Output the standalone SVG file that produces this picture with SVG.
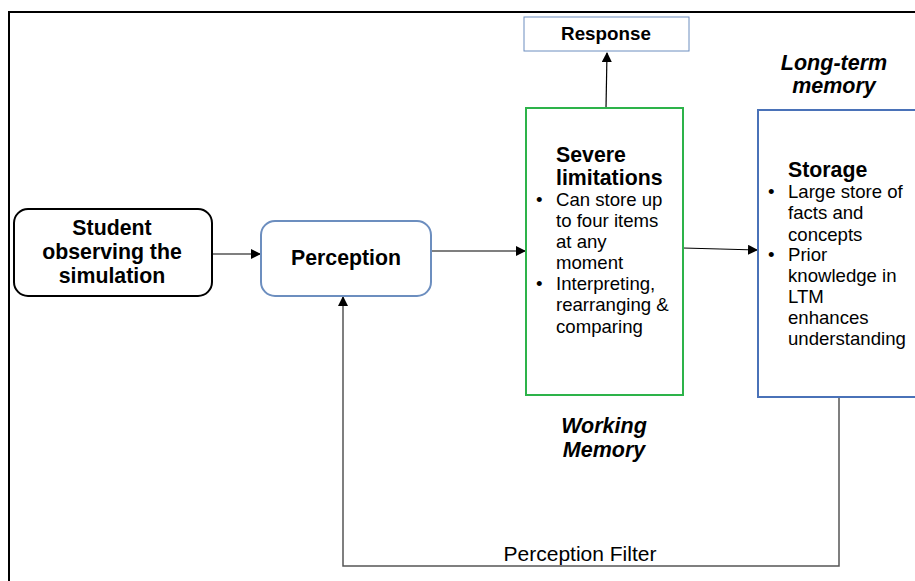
<svg xmlns="http://www.w3.org/2000/svg" width="915" height="581" viewBox="0 0 915 581">
<style>
text{font-family:"Liberation Sans",Arial,sans-serif;fill:#000}
.b{font-weight:bold;font-size:21.3px}
.bi{font-weight:bold;font-style:italic;font-size:21.5px}
.t{font-size:18.6px}
.c{stroke:#000;stroke-width:1.2;fill:none}
</style>
<defs>
<marker id="ah" viewBox="0 0 10 10" refX="9" refY="5" markerWidth="10" markerHeight="10" markerUnits="userSpaceOnUse" orient="auto">
<path d="M0,0 L10,5 L0,10 z" fill="#000"/>
</marker>
</defs>
<rect width="915" height="581" fill="#fff"/>
<g id="frame"><path d="M9,581 V12 H915" fill="none" stroke="#000" stroke-width="2"/></g>
<g id="connectors">
<line class="c" x1="212" y1="254" x2="260" y2="254" marker-end="url(#ah)"/>
<line class="c" x1="431" y1="251" x2="525" y2="251" marker-end="url(#ah)"/>
<line class="c" x1="683" y1="248" x2="757" y2="250" marker-end="url(#ah)"/>
<line class="c" x1="606" y1="108" x2="607" y2="53" marker-end="url(#ah)"/>
<path d="M839,397 V566 H343 V297" fill="none" stroke="#555" stroke-width="1.5" marker-end="url(#ah)"/>
<text x="580" y="561" font-size="21" text-anchor="middle">Perception Filter</text>
</g>
<g id="student">
<rect x="14" y="209" width="198" height="87" rx="14" fill="#fff" stroke="#000" stroke-width="2"/>
<text class="b" x="112" text-anchor="middle"><tspan x="112" y="235">Student</tspan><tspan x="112" y="259">observing the</tspan><tspan x="112" y="283">simulation</tspan></text>
</g>
<g id="perception">
<rect x="261" y="221" width="170" height="75" rx="14" fill="#fff" stroke="#6c8ebf" stroke-width="2"/>
<text class="b" x="346" y="265" text-anchor="middle">Perception</text>
</g>
<g id="response">
<rect x="524" y="17" width="165" height="34" fill="#fff" stroke="#6c8ebf" stroke-width="1"/>
<text x="606" y="40" font-size="18.8" font-weight="bold" text-anchor="middle">Response</text>
</g>
<g id="working-memory">
<rect x="526" y="108" width="157" height="287" fill="#fff" stroke="#2db34a" stroke-width="2"/>
<text class="b" x="556" y="162">Severe</text>
<text class="b" x="556" y="185">limitations</text>
<text class="t"><tspan x="536" y="206">•</tspan><tspan x="556" y="206">Can store up</tspan><tspan x="556" y="227">to four items</tspan><tspan x="556" y="248">at any</tspan><tspan x="556" y="269">moment</tspan><tspan x="536" y="290">•</tspan><tspan x="556" y="290">Interpreting,</tspan><tspan x="556" y="311">rearranging &amp;</tspan><tspan x="556" y="333">comparing</tspan></text>
<text class="bi" x="604" y="433" text-anchor="middle">Working</text>
<text class="bi" x="604" y="457" text-anchor="middle">Memory</text>
</g>
<g id="long-term-memory">
<rect x="758" y="110" width="180" height="287" fill="#fff" stroke="#4a72b8" stroke-width="2"/>
<text class="b" x="788" y="177">Storage</text>
<text class="t"><tspan x="768" y="198">•</tspan><tspan x="788" y="198">Large store of</tspan><tspan x="788" y="219">facts and</tspan><tspan x="788" y="241">concepts</tspan><tspan x="768" y="261">•</tspan><tspan x="788" y="261">Prior</tspan><tspan x="788" y="282">knowledge in</tspan><tspan x="788" y="303">LTM</tspan><tspan x="788" y="324">enhances</tspan><tspan x="788" y="345">understanding</tspan></text>
<text class="bi" x="834" y="70" text-anchor="middle">Long-term</text>
<text class="bi" x="834" y="93" text-anchor="middle">memory</text>
</g>
</svg>
